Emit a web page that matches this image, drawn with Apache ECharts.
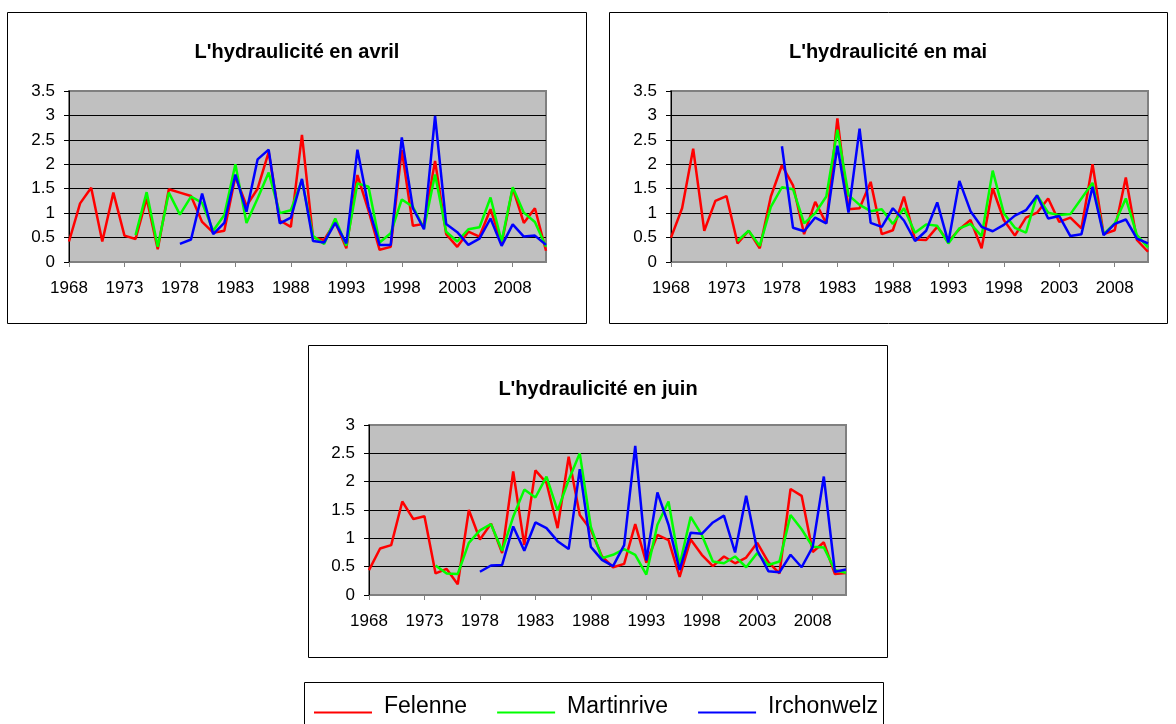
<!DOCTYPE html>
<html>
<head>
<meta charset="utf-8">
<script src="https://cdn.jsdelivr.net/npm/echarts@6/dist/echarts.min.js"></script>
<style>
  html, body { margin: 0; padding: 0; background: #fff; }
  #chart { width: 1176px; height: 724px; }
</style>
</head>
<body>
<div id="chart"></div>
<script>
// années 1968 -> 2011
const years = []
for (let y = 1968; y <= 2011; y++) years.push(String(y))

const seriesNames = ['Felenne', 'Martinrive', 'Irchonwelz']
const panelTitles = ["L'hydraulicité en avril", "L'hydraulicité en mai", "L'hydraulicité en juin"]

// avril
const aprFelenne = [0.42, 1.2, 1.52, 0.42, 1.42, 0.54, 0.47, 1.3, 0.26, 1.49, 1.42, 1.35,
  0.82, 0.6, 0.64, 1.75, 1.15, 1.5, 2.25, 0.85, 0.72, 2.6,
  0.5, 0.45, 0.82, 0.28, 1.78, 1.05, 0.25, 0.31, 2.29, 0.74,
  0.78, 2.07, 0.57, 0.31, 0.62, 0.52, 1.08, 0.38, 1.51, 0.8, 1.1, 0.23]
const aprMartinrive = [null, null, null, null, null, null,
  0.55, 1.43, 0.31, 1.42, 0.97, 1.34, 1.21, 0.64, 0.96, 2.0, 0.8, 1.3, 1.83, 1.0, 1.06, 1.68,
  0.53, 0.37, 0.89, 0.33, 1.61, 1.54, 0.4, 0.59, 1.28, 1.13,
  0.69, 1.79, 0.62, 0.42, 0.67, 0.71, 1.32, 0.42, 1.53, 1.01, 0.82, 0.31]
const aprIrchonwelz = [null, null, null, null, null, null, null, null, null, null,
  0.37, 0.46, 1.4, 0.57, 0.8, 1.79, 1.03, 2.1, 2.3, 0.79, 0.91, 1.7,
  0.43, 0.4, 0.8, 0.38, 2.3, 1.13, 0.35, 0.35, 2.55, 1.1,
  0.67, 2.99, 0.78, 0.61, 0.35, 0.48, 0.89, 0.33, 0.77, 0.52, 0.54, 0.35]

// mai
const mayFelenne = [0.5, 1.1, 2.32, 0.64, 1.25, 1.35, 0.38, 0.64, 0.28, 1.34, 1.98, 1.57,
  0.57, 1.23, 0.79, 2.94, 1.08, 1.1, 1.64, 0.57, 0.65, 1.34,
  0.46, 0.45, 0.72, 0.42, 0.67, 0.86, 0.28, 1.51, 0.86, 0.54,
  0.91, 1.01, 1.3, 0.82, 0.91, 0.69, 2.0, 0.57, 0.65, 1.73, 0.45, 0.21]
const mayMartinrive = [null, null, null, null, null, null,
  0.43, 0.64, 0.33, 1.13, 1.53, 1.49, 0.79, 1.0, 1.34, 2.71, 1.37, 1.17, 1.04, 1.08, 0.78, 1.1,
  0.6, 0.77, 0.74, 0.38, 0.69, 0.78, 0.53, 1.87, 1.0, 0.7,
  0.6, 1.37, 1.01, 0.96, 0.98, 1.3, 1.62, 0.57, 0.79, 1.3, 0.55, 0.3]
const mayIrchonwelz = [null, null, null, null, null, null, null, null, null, null,
  2.37, 0.7, 0.63, 0.91, 0.79, 2.38, 1.01, 2.73, 0.8, 0.72, 1.1, 0.85,
  0.43, 0.64, 1.22, 0.4, 1.66, 1.04, 0.72, 0.63, 0.76, 0.95,
  1.06, 1.36, 0.89, 0.94, 0.53, 0.57, 1.54, 0.55, 0.78, 0.87, 0.48, 0.38]

// juin
const junFelenne = [0.44, 0.82, 0.88, 1.65, 1.34, 1.39, 0.38, 0.46, 0.19, 1.5, 0.98, 1.26,
  0.74, 2.18, 0.88, 2.2, 1.98, 1.18, 2.44, 1.41, 1.15, 0.68,
  0.49, 0.55, 1.25, 0.57, 1.06, 0.97, 0.32, 0.98, 0.71, 0.51,
  0.68, 0.56, 0.66, 0.92, 0.58, 0.38, 1.87, 1.75, 0.76, 0.93, 0.37, 0.39]
const junMartinrive = [null, null, null, null, null, null,
  0.52, 0.38, 0.37, 0.92, 1.14, 1.25, 0.78, 1.38, 1.86, 1.72, 2.09, 1.49, 2.03, 2.5, 1.2, 0.65,
  0.71, 0.81, 0.71, 0.36, 1.24, 1.65, 0.53, 1.38, 1.06, 0.59,
  0.56, 0.68, 0.49, 0.74, 0.53, 0.59, 1.41, 1.16, 0.85, 0.84, 0.44, 0.39]
const junIrchonwelz = [null, null, null, null, null, null, null, null, null, null,
  0.41, 0.52, 0.53, 1.21, 0.78, 1.28, 1.18, 0.95, 0.81, 2.22, 0.85, 0.62,
  0.51, 0.88, 2.63, 0.61, 1.81, 1.24, 0.44, 1.1, 1.08, 1.28,
  1.4, 0.75, 1.75, 0.79, 0.42, 0.4, 0.71, 0.49, 0.85, 2.09, 0.41, 0.45]

const panelData = [
  [aprFelenne, aprMartinrive, aprIrchonwelz],
  [mayFelenne, mayMartinrive, mayIrchonwelz],
  [junFelenne, junMartinrive, junIrchonwelz],
]
const yMax = [3.5, 3.5, 3]
const colors = ['#ff0000', '#00ff00', '#0000ff']

const FONT = '"Liberation Sans", Arial, sans-serif'

// positions des zones de tracé et des cadres
const grids = [
  { left: 69, top: 91, width: 477, height: 171 },
  { left: 671, top: 91, width: 477, height: 171 },
  { left: 369, top: 425, width: 477, height: 170 },
]
const frames = [
  { x: 7.5, y: 12.5, width: 579, height: 311 },
  { x: 609.5, y: 12.5, width: 558, height: 311 },
  { x: 308.5, y: 345.5, width: 579, height: 312 },
]
const titlePos = [{ x: 297, y: 42 }, { x: 888, y: 42 }, { x: 598, y: 379 }]

const chart = echarts.init(document.getElementById('chart'))

const series = []
panelData.forEach((rows, p) => {
  rows.forEach((data, s) => {
    series.push({
      name: seriesNames[s],
      type: 'line',
      xAxisIndex: p,
      yAxisIndex: p,
      data: data,
      symbol: 'none',
      connectNulls: false,
      lineStyle: { width: 2.5, color: colors[s] },
      itemStyle: { color: colors[s] },
    })
  })
})

chart.setOption({
  animation: false,
  backgroundColor: '#fff',
  title: panelTitles.map((t, i) => ({
    text: t,
    left: titlePos[i].x,
    top: titlePos[i].y,
    textAlign: 'center',
    padding: 0,
    textStyle: { fontSize: 20, fontWeight: 'bold', color: '#000', fontFamily: FONT },
  })),
  grid: grids.map(g => ({
    ...g,
    show: true,
    backgroundColor: '#c0c0c0',
    borderColor: '#808080',
    borderWidth: 2,
  })),
  xAxis: grids.map((g, i) => ({
    type: 'category',
    gridIndex: i,
    data: years,
    boundaryGap: false,
    axisLine: { lineStyle: { color: '#808080', width: 1 } },
    axisTick: { interval: 4, length: 5, lineStyle: { color: '#808080' } },
    axisLabel: { interval: 4, fontSize: 17, color: '#000', margin: 18, fontFamily: FONT },
    splitLine: { show: false },
  })),
  yAxis: grids.map((g, i) => ({
    type: 'value',
    gridIndex: i,
    min: 0,
    max: yMax[i],
    interval: 0.5,
    axisLine: { show: true, lineStyle: { color: '#000', width: 1 } },
    axisTick: { show: true, length: 5, lineStyle: { color: '#000' } },
    axisLabel: { fontSize: 17, color: '#000', margin: 14, fontFamily: FONT },
    splitLine: { show: true, showMaxLine: false, showMinLine: false, lineStyle: { color: '#000', width: 1 } },
  })),
  legend: {
    data: seriesNames,
    left: 314,
    top: 695,
    padding: 0,
    itemGap: 30,
    itemWidth: 65,
    itemHeight: 14,
    // trait fin en bas de l'icône, avec un peu d'espace avant le texte
    icon: 'path://M0,12 L58,12 L58,14 L0,14 Z M0,0 L0.01,0 L0.01,0.01 Z M65,0 L65.01,0 L65.01,0.01 Z',
    textStyle: { fontSize: 23, color: '#000', fontFamily: FONT },
  },
  graphic: [
    ...frames.map(f => ({
      type: 'rect',
      shape: f,
      silent: true,
      z: -10,
      style: { fill: 'none', stroke: '#000', lineWidth: 1 },
    })),
    {
      type: 'rect',
      shape: { x: 304.5, y: 682.5, width: 579, height: 50 },
      silent: true,
      z: -10,
      style: { fill: 'none', stroke: '#000', lineWidth: 1 },
    },
  ],
  series,
})
</script>
</body>
</html>
